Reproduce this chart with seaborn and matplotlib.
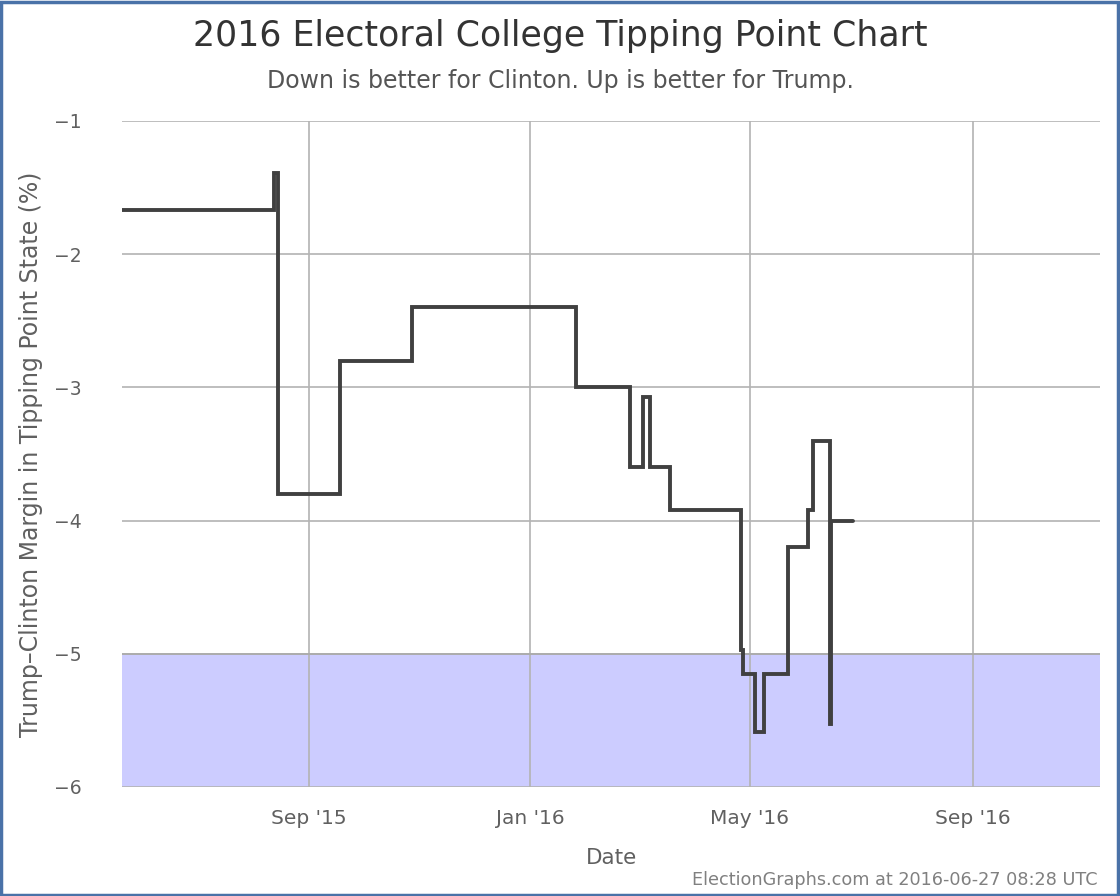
import matplotlib
matplotlib.use("Agg")
import matplotlib.pyplot as plt
import matplotlib.dates as mdates
import matplotlib.patches as mpatches
import seaborn as sns
import pandas as pd

# ---- data (step series: value holds from date onward) ----
dates = ["2015-05-21", "2015-08-13", "2015-08-15", "2015-09-18", "2015-10-28",
         "2016-01-26", "2016-02-25", "2016-03-03", "2016-03-07", "2016-03-18",
         "2016-04-26", "2016-04-27", "2016-05-04", "2016-05-09", "2016-05-22",
         "2016-06-02", "2016-06-05", "2016-06-14", "2016-06-15", "2016-06-27"]
margins = [-1.67, -1.39, -3.80, -2.80, -2.40,
           -3.00, -3.60, -3.07, -3.60, -3.92,
           -4.97, -5.15, -5.59, -5.15, -4.20,
           -3.92, -3.40, -5.53, -4.00, -4.00]
x_ticks = ["2015-09-01", "2016-01-01", "2016-05-01", "2016-09-01"]
x_tick_labels = ["Sep '15", "Jan '16", "May '16", "Sep '16"]
y_ticks = [-1, -2, -3, -4, -5, -6]
x_range = ["2015-05-21", "2016-11-10"]
band = [-6, -5]

df = pd.DataFrame({"date": pd.to_datetime(dates), "margin": margins})

sns.set_theme(style="white")
plt.rcParams['font.family'] = ['DejaVu Sans']

fig = plt.figure(figsize=(11.2, 8.96), dpi=100)
ax = fig.add_axes([122/1120, 1-787/896, (1100-122)/1120, (787-121)/896])

ax.axhspan(band[0], band[1], color="#ccccff", zorder=0, lw=0)
ax.axhline(band[1], color="#aaaaaa", lw=1.2, zorder=1)

sns.lineplot(data=df, x="date", y="margin", ax=ax, estimator=None,
             drawstyle="steps-post", color="#404040", lw=2.8, zorder=3,
             solid_joinstyle="miter")

ax.set_xlim(pd.to_datetime(x_range[0]), pd.to_datetime(x_range[1]))
ax.set_ylim(-6, -1)
ax.set_yticks(y_ticks)
ax.set_yticklabels([f"\u2212{abs(v)}" for v in y_ticks])
ax.set_xticks(pd.to_datetime(x_ticks))
ax.set_xticklabels(x_tick_labels)

ax.grid(True, color="#b3b3b3", lw=1.2, zorder=1)
ax.set_axisbelow(True)
for s in ax.spines.values():
    s.set_visible(False)
ax.tick_params(axis="both", length=0, labelcolor="#606060")
ax.tick_params(axis="x", labelsize=14.5, pad=16)
ax.tick_params(axis="y", labelsize=13.5, pad=29)

ax.set_xlabel("Date", fontsize=15.5, color="#606060", labelpad=14)
ax.set_ylabel("Trump\u2013Clinton Margin in Tipping Point State (%)",
              fontsize=17, color="#606060", labelpad=8)

fig.text(0.5, 1-36/896, "2016 Electoral College Tipping Point Chart",
         ha="center", va="center", fontsize=25, color="#333333")
fig.text(0.5, 1-81/896, "Down is better for Clinton. Up is better for Trump.",
         ha="center", va="center", fontsize=17, color="#555555")
fig.text(1098/1120, 1-880/896, "ElectionGraphs.com at 2016-06-27 08:28 UTC",
         ha="right", va="center", fontsize=12.7, color="#808080")

fig.patches.append(mpatches.Rectangle((0.001, 0.001), 0.997, 0.997,
                                      transform=fig.transFigure, fill=False,
                                      edgecolor="#4a72a8", lw=2.5))

fig.savefig("out.png", dpi=100)
